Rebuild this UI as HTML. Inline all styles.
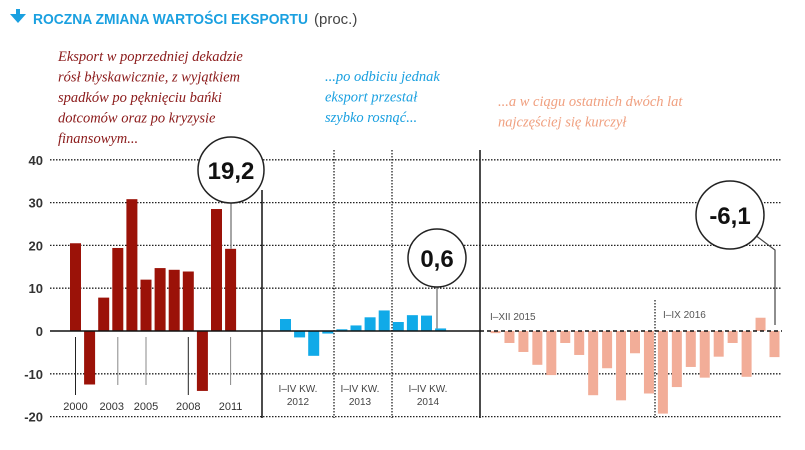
<!DOCTYPE html>
<html><head><meta charset="utf-8"><style>
body{margin:0;background:#fff;width:805px;height:450px;overflow:hidden;font-family:"Liberation Sans",sans-serif}
svg{display:block}
</style></head><body>
<svg id="c" width="805" height="450"></svg>
<script>
const years=[2000,2001,2002,2003,2004,2005,2006,2007,2008,2009,2010,2011];
const yearVals=[20.5,-12.5,7.8,19.4,30.8,12,14.7,14.3,13.9,-14,28.5,19.2];
const quarterVals=[2.8,-1.5,-5.8,-0.6,0.4,1.3,3.2,4.8,2.1,3.7,3.6,0.6];
const monthVals=[-0.5,-2.8,-4.9,-7.9,-10.3,-2.8,-5.6,-15,-8.7,-16.2,-5.2,-14.6,-19.3,-13.1,-8.4,-10.9,-6.0,-2.8,-10.7,3.1,-6.1];
const yTicks=[40,30,20,10,0,-10,-20];
const yearLabels=["2000","2003","2005","2008","2011"];
const yearLabelIdx=[0,3,5,8,11];

const NS="http://www.w3.org/2000/svg";
const svg=document.getElementById('c');
function y(v){return 331-v*4.28;}
function mk(t,a,txt){const e=document.createElementNS(NS,t);for(const k in a)e.setAttribute(k,a[k]);if(txt!==undefined)e.textContent=txt;svg.appendChild(e);return e;}

let e=mk('path',{d:'M10 14 h6 v-5 h4 v5 h6 l-8 9 z',fill:'#1aa0e0'});

e=mk('text',{x:33,y:24,'font-size':15,'font-weight':'bold',fill:'#1aa0e0','textLength':275,'lengthAdjust':'spacingAndGlyphs'},'ROCZNA ZMIANA WARTOŚCI EKSPORTU');

e=mk('text',{x:314,y:24,'font-size':15,fill:'#444'},'(proc.)');


const a1=["Eksport w poprzedniej dekadzie","rósł błyskawicznie, z wyjątkiem","spadków po pęknięciu bańki","dotcomów oraz po kryzysie","finansowym..."];
a1.forEach((s,i)=>{e=mk('text',{x:58,y:61+i*20.5,'font-size':14.5,'font-style':'italic','font-family':'Liberation Serif,serif',fill:'#8b1a1a'},s);
});
const a2=["...po odbiciu jednak","eksport przestał","szybko rosnąć..."];
a2.forEach((s,i)=>{e=mk('text',{x:325,y:81+i*20.5,'font-size':14.5,'font-style':'italic','font-family':'Liberation Serif,serif',fill:'#1aa0e0'},s);
});
const a3=["...a w ciągu ostatnich dwóch lat","najczęściej się kurczył"];
a3.forEach((s,i)=>{e=mk('text',{x:498,y:106+i*20.5,'font-size':14.5,'font-style':'italic','font-family':'Liberation Serif,serif',fill:'#f0a080'},s);
});

yTicks.forEach(t=>{
 e=mk('text',{x:43,y:y(t)+5,'font-size':13,'font-weight':'bold',fill:'#333','text-anchor':'end'},String(t));
 
 if(t!==0){e=mk('line',{x1:50,x2:782,y1:y(t),y2:y(t),stroke:'#222','stroke-width':1.3,'stroke-dasharray':'1.5 1.5'});
 }
});
const labelShift=[0,-6,0,0,0];
yearLabelIdx.forEach((idx,i)=>{
 const cx=75.5+idx*14.1;
 e=mk('line',{x1:cx,x2:cx,y1:337,y2:i===0||i===3?395:385,stroke:i===0||i===3?'#222':'#888','stroke-width':1});
 
 e=mk('text',{x:cx+labelShift[i],y:410,'font-size':11,fill:'#333','text-anchor':'middle'},yearLabels[i]);
 
});
yearVals.forEach((v,i)=>{const x=70+i*14.1;
 e=mk('rect',{x:x,width:11,y:Math.min(y(v),y(0)),height:Math.abs(y(v)-y(0)),fill:'#9b1208'});
 });
quarterVals.forEach((v,i)=>{const x=280+i*14.1;
 e=mk('rect',{x:x,width:11,y:Math.min(y(v),y(0)),height:Math.abs(y(v)-y(0)),fill:'#10aae8'});
 });
monthVals.forEach((v,i)=>{const x=490.5+i*13.95;
 e=mk('rect',{x:x,width:10,y:Math.min(y(v),y(0)),height:Math.abs(y(v)-y(0)),fill:'#f2ad98'});
 });
e=mk('line',{x1:50,x2:480,y1:331,y2:331,stroke:'#111','stroke-width':1.5});

e=mk('line',{x1:480,x2:782,y1:331,y2:331,stroke:'#111','stroke-width':1.5,'stroke-dasharray':'4 3'});

[[262,190],[480,150]].forEach(s=>{e=mk('line',{x1:s[0],x2:s[0],y1:s[1],y2:418,stroke:'#111','stroke-width':1.5});
 });
[334,392].forEach(x=>{e=mk('line',{x1:x,x2:x,y1:150,y2:418,stroke:'#111','stroke-width':1.2,'stroke-dasharray':'1.5 1.5'});
 });
e=mk('line',{x1:655,x2:655,y1:300,y2:418,stroke:'#111','stroke-width':1.2,'stroke-dasharray':'1.5 1.5'});

[["I–IV KW.","2012",298],["I–IV KW.","2013",360],["I–IV KW.","2014",428]].forEach(q=>{
 e=mk('text',{x:q[2],y:392,'font-size':10,fill:'#444','text-anchor':'middle'},q[0]);
 
 e=mk('text',{x:q[2],y:405,'font-size':10,fill:'#444','text-anchor':'middle'},q[1]);
 });
e=mk('text',{x:490,y:320,'font-size':10,fill:'#555'},'I–XII 2015');

e=mk('text',{x:663,y:318,'font-size':10,fill:'#555'},'I–IX 2016');

function callout(cx,cy,r,txt,lx,ly,name){
 e=mk('path',{d:`M${cx} ${cy+r} L${lx} ${ly}`,stroke:'#888','stroke-width':1.5,fill:'none'});
 
 e=mk('circle',{cx:cx,cy:cy,r:r,fill:'#fff',stroke:'#222','stroke-width':1.5});
 
 e=mk('text',{x:cx,y:cy+9,'font-size':24,'font-weight':'bold',fill:'#111','text-anchor':'middle'},txt);
 
}
callout(231,170,33,String(yearVals[11]).replace('.',','),231,y(yearVals[11]),'callout-2011');
callout(437,258,29,String(quarterVals[11]).replace('.',','),437,y(quarterVals[11]),'callout-2014');
e=mk('path',{d:'M755 235 L775 250 L775 325',stroke:'#444','stroke-width':1.2,fill:'none'});

callout(730,215,34,String(monthVals[20]).replace('.',','),730,215,'callout-2016');
</script>
</body></html>
